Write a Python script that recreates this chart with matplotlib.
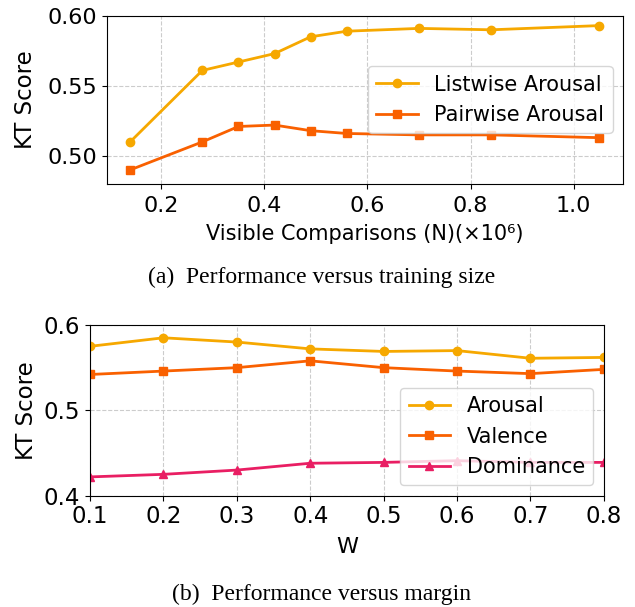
import matplotlib
matplotlib.use("Agg")
import matplotlib.pyplot as plt

# (a) performance versus training size
n_visible = [0.14, 0.28, 0.35, 0.42, 0.49, 0.56, 0.70, 0.84, 1.05]
listwise_arousal = [0.510, 0.561, 0.567, 0.573, 0.585, 0.589, 0.591, 0.590, 0.593]
pairwise_arousal = [0.490, 0.510, 0.521, 0.522, 0.518, 0.516, 0.515, 0.515, 0.513]

# (b) performance versus margin
margin_w = [0.1, 0.2, 0.3, 0.4, 0.5, 0.6, 0.7, 0.8]
arousal = [0.575, 0.585, 0.580, 0.572, 0.569, 0.570, 0.561, 0.562]
valence = [0.542, 0.546, 0.550, 0.558, 0.550, 0.546, 0.543, 0.548]
dominance = [0.422, 0.425, 0.430, 0.438, 0.439, 0.441, 0.439, 0.439]

YELLOW = "#F6A800"
ORANGE = "#F96000"
PINK = "#E91E63"

fig = plt.figure(figsize=(6.35, 6.07), dpi=100)

ax = fig.add_axes([0.168, 0.697, 0.813, 0.277])
ax.plot(n_visible, listwise_arousal, color=YELLOW, marker="o", lw=2, ms=6, label="Listwise Arousal")
ax.plot(n_visible, pairwise_arousal, color=ORANGE, marker="s", lw=2, ms=6, label="Pairwise Arousal")
ax.set_ylim(0.48, 0.60)
ax.set_yticks([0.50, 0.55, 0.60])
ax.set_xticks([0.2, 0.4, 0.6, 0.8, 1.0])
ax.grid(True, linestyle="--", color="#cccccc", lw=0.8)
ax.tick_params(labelsize=16)
ax.tick_params(axis="x", pad=5)
ax.set_xlabel("Visible Comparisons (N)(\u00d710\u2076)", fontsize=15, labelpad=6)
ax.set_ylabel("KT Score", fontsize=16.5)
ax.yaxis.set_label_coords(-0.135, 0.5)
ax.legend(loc="center right", fontsize=15)

ax = fig.add_axes([0.1417, 0.1834, 0.8093, 0.2812])
ax.plot(margin_w, arousal, color=YELLOW, marker="o", lw=2, ms=6, label="Arousal")
ax.plot(margin_w, valence, color=ORANGE, marker="s", lw=2, ms=6, label="Valence")
ax.plot(margin_w, dominance, color=PINK, marker="^", lw=2, ms=6, label="Dominance")
ax.set_xlim(0.1, 0.8)
ax.set_ylim(0.4, 0.6)
ax.set_yticks([0.4, 0.5, 0.6])
ax.grid(True, linestyle="--", color="#cccccc", lw=0.8)
ax.tick_params(labelsize=16.5)
ax.set_xlabel("W", fontsize=16, labelpad=6)
ax.set_ylabel("KT Score", fontsize=16.5)
ax.yaxis.set_label_coords(-0.101, 0.5)
ax.legend(loc="lower right", fontsize=15)

cap = dict(ha="center", va="center", fontsize=17, family=["Liberation Serif", "DejaVu Serif"])
fig.text(0.506, 1 - 277 / 607, "(a)  Performance versus training size", **cap)
fig.text(0.506, 1 - 594 / 607, "(b)  Performance versus margin", **cap)

fig.savefig("out.png", dpi=100)
